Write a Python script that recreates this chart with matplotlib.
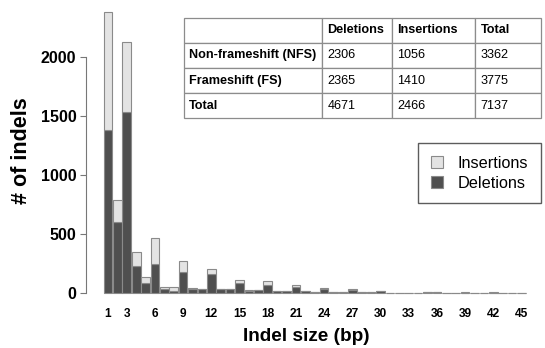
import numpy as np
import matplotlib
matplotlib.use("Agg")
import matplotlib.pyplot as plt

plt.rcParams['font.family'] = ['Liberation Sans', 'DejaVu Sans']

# indel counts per size (bp)
sizes = np.arange(1, 46)
deletions = [1380, 605, 1535, 231, 85, 248, 34, 19, 183, 36,
             36, 161, 34, 34, 90, 23, 28, 68, 17, 17,
             51, 17, 8, 36, 8, 8, 30, 8, 8, 17,
             5, 5, 5, 5, 8, 8, 5, 5, 6, 5,
             5, 6, 4, 4, 4]
insertions = [1000, 184, 592, 121, 50, 222, 17, 37, 90, 6,
              3, 42, 2, 2, 22, 2, 2, 39, 2, 2,
              17, 2, 2, 6, 2, 2, 4, 2, 2, 3,
              1, 1, 1, 1, 2, 2, 1, 1, 1, 1,
              1, 1, 1, 1, 1]
xtick_pos = [1, 3, 6, 9, 12, 15, 18, 21, 24, 27, 30, 33, 36, 39, 42, 45]

# summary table
col_labels = ["", "Deletions", "Insertions", "Total"]
row_labels = ["Non-frameshift (NFS)", "Frameshift (FS)", "Total"]
table_vals = [["2306", "1056", "3362"],
              ["2365", "1410", "3775"],
              ["4671", "2466", "7137"]]

W, H = 545, 348
fig = plt.figure(figsize=(W / 100, H / 100), dpi=100)
ax = fig.add_axes([86 / W, 1 - 296 / H, (W - 86) / W, (296 - 5) / H])

dark = "#4f4f4f"
light = "#e3e3e3"
edge = "#8a8a8a"
ax.bar(sizes, deletions, width=0.92, color=dark, edgecolor=edge, linewidth=0.8,
       label="Deletions")
ax.bar(sizes, insertions, bottom=deletions, width=0.92, color=light,
       edgecolor=edge, linewidth=0.8, label="Insertions")

ax.set_xlim(-1.34, 47.5)
ax.set_ylim(-22.8, 2437)

for s in ["top", "right", "bottom"]:
    ax.spines[s].set_visible(False)
ax.spines["left"].set_bounds(0, 2000)
ax.spines["left"].set_color("#777777")
ax.set_yticks([0, 500, 1000, 1500, 2000])
ax.tick_params(axis="y", length=4, color="#777777", labelsize=11.5, pad=3)
ax.set_xticks(xtick_pos)
ax.tick_params(axis="x", length=0, labelsize=8.6, pad=8.5)
for lab in ax.get_xticklabels() + ax.get_yticklabels():
    lab.set_fontweight("bold")

ax.set_ylabel("# of indels", fontsize=15.5, fontweight="bold")
ax.yaxis.set_label_coords((21.7 - 86) / (W - 86), 0.5)
ax.yaxis.label.set_va("center")
fig.text(306.5 / W, 1 - 336.7 / H, "Indel size (bp)", fontsize=13.7,
         fontweight="bold", ha="center", va="center")

handles, labels = ax.get_legend_handles_labels()
leg = ax.legend(handles[::-1], labels[::-1], loc="upper right",
                bbox_to_anchor=(540.7 / W, 1 - 143.3 / H),
                bbox_transform=fig.transFigure, borderaxespad=0,
                fontsize=11.7, fancybox=False, frameon=True,
                handlelength=0.75, handleheight=0.75, handletextpad=0.9,
                labelspacing=0.28, borderpad=0.78)
leg.get_frame().set_edgecolor("#333333")
leg.get_frame().set_linewidth(1.0)

# table in the upper right
tx0, tx1, ty0, ty1 = 183.5, 541, 17.7, 118.3
tax = fig.add_axes([tx0 / W, 1 - ty1 / H, (tx1 - tx0) / W, (ty1 - ty0) / H])
tax.axis("off")
col_px = [138.5, 69.7, 83.3, 66.0]
cells = [col_labels] + [[r] + v for r, v in zip(row_labels, table_vals)]
tbl = tax.table(cellText=cells, cellLoc="left", bbox=[0, 0, 1, 1],
                colWidths=[c / sum(col_px) for c in col_px])
tbl.auto_set_font_size(False)
for (r, c), cell in tbl.get_celld().items():
    cell.set_edgecolor("#8c8c8c")
    cell.set_linewidth(0.9)
    cell.PAD = 5.5 / col_px[c]
    txt = cell.get_text()
    txt.set_fontsize(9.1)
    if r == 0 or c == 0:
        txt.set_fontweight("bold")

fig.savefig("out.png", dpi=100)
